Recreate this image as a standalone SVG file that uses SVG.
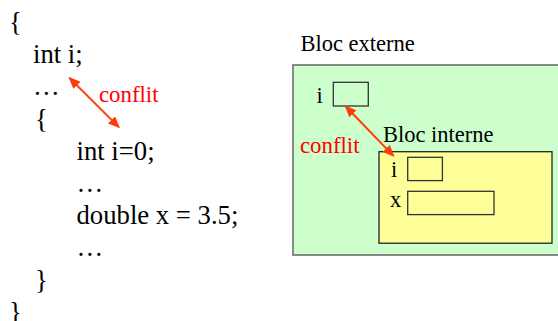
<svg xmlns="http://www.w3.org/2000/svg" width="558" height="321" viewBox="0 0 558 321">
  <style>
    text { font-family: "Times New Roman", "Liberation Serif", Tinos, "DejaVu Serif", serif; }
    .code { font-size: 26.7px; fill: #000; }
    .lbl { font-size: 22.5px; fill: #000; }
    .warn { font-size: 22.8px; fill: #FF0000; }
    .conn { stroke: #FF3D0A; stroke-width: 2; fill: none; marker-start: url(#head); marker-end: url(#head); }
    .slot { stroke: #333; stroke-width: 1.3; }
  </style>
  <defs>
    <marker id="head" viewBox="0 0 12 10" refX="10" refY="5" markerWidth="12" markerHeight="10" markerUnits="userSpaceOnUse" orient="auto-start-reverse">
      <path d="M0,0 L12,5 L0,10 z" fill="#FF3D0A"/>
    </marker>
  </defs>

  <!-- source code listing -->
  <g id="code">
    <text class="code" x="9" y="31">{</text>
    <text class="code" x="33" y="63.2">int i;</text>
    <text class="code" x="33" y="95.4">…</text>
    <text class="code" x="35" y="127.6">{</text>
    <text class="code" x="76.5" y="159.8">int i=0;</text>
    <text class="code" x="76.5" y="192">…</text>
    <text class="code" x="76.5" y="224.2">double x = 3.5;</text>
    <text class="code" x="76.5" y="256.4">…</text>
    <text class="code" x="35" y="288.6">}</text>
    <text class="code" x="9" y="320.5">}</text>
    <text class="warn" x="99" y="101.7">conflit</text>
  </g>

  <!-- outer block -->
  <g id="bloc-externe">
    <text class="lbl" x="300.5" y="50.7">Bloc externe</text>
    <rect x="293" y="65" width="270" height="190" fill="#CCFFCC" stroke="#666" stroke-width="1.5"/>
    <text class="lbl" x="316.5" y="102.5">i</text>
    <rect class="slot" x="333.3" y="82.3" width="35" height="23.7" fill="#CCFFCC"/>
    <text class="warn" x="300" y="153.3">conflit</text>
  </g>

  <!-- inner block -->
  <g id="bloc-interne">
    <text class="lbl" x="383" y="141.7">Bloc interne</text>
    <rect x="379" y="151.7" width="173" height="91.5" fill="#FFFF99" stroke="#222" stroke-width="1.3"/>
    <text class="lbl" x="391" y="176.5">i</text>
    <rect class="slot" x="407.7" y="157.3" width="34.7" height="23.3" fill="#FFFF99"/>
    <text class="lbl" x="390" y="206.5">x</text>
    <rect class="slot" x="407.7" y="191.3" width="86.3" height="23.3" fill="#FFFF99"/>
  </g>

  <!-- conflict connectors -->
  <g id="connectors">
    <path class="conn" d="M69.8,78.2 L118.6,126.9"/>
    <path class="conn" d="M346,106.8 L393.2,155.6"/>
  </g>
</svg>
